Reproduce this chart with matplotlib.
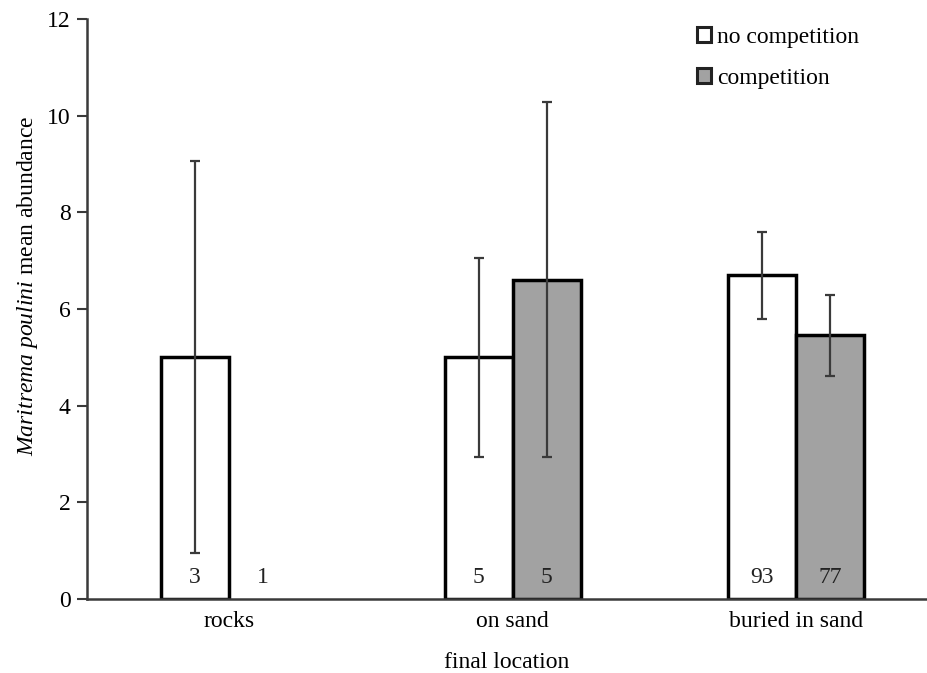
import matplotlib
matplotlib.use("Agg")
import matplotlib.pyplot as plt
import matplotlib.patches as mpatches
import numpy as np

# data
locations = ["rocks", "on sand", "buried in sand"]
mean_nocomp = [5.0, 5.0, 6.7]
err_nocomp = [4.05, 2.06, 0.9]
mean_comp = [0.0, 6.6, 5.45]
err_comp = [0.0, 3.67, 0.84]
n_nocomp = ["3", "5", "93"]
n_comp = ["1", "5", "77"]

plt.rcParams["font.family"] = ["Liberation Serif", "DejaVu Serif"]
plt.rcParams["mathtext.fontset"] = "custom"
plt.rcParams["mathtext.it"] = "Liberation Serif:italic"
plt.rcParams["mathtext.rm"] = "Liberation Serif"

axis_col = "#3a3a3a"
grey = "#a2a2a2"
w = 0.24
fs = 17

fig = plt.figure(figsize=(9.27, 6.73), dpi=100)
ax = fig.add_axes([0.0939, 0.110, 0.906, 0.862])

x = np.arange(len(locations))

# white bars; the rocks/competition bar has no data so it is skipped
ax.bar(x - w / 2, mean_nocomp, w, color="white", edgecolor="black", linewidth=2.5, zorder=2)
comp_idx = [i for i in range(len(locations)) if mean_comp[i] > 0]
ax.bar(x[comp_idx] + w / 2, [mean_comp[i] for i in comp_idx], w, color=grey,
       edgecolor="black", linewidth=2.5, zorder=2)

ax.errorbar(x - w / 2, mean_nocomp, yerr=err_nocomp, fmt="none", ecolor=axis_col,
            elinewidth=1.6, capsize=3.5, capthick=1.6, zorder=3)
ax.errorbar(x[comp_idx] + w / 2, [mean_comp[i] for i in comp_idx],
            yerr=[err_comp[i] for i in comp_idx], fmt="none", ecolor=axis_col,
            elinewidth=1.6, capsize=3.5, capthick=1.6, zorder=3)

# sample sizes inside bars
for i in range(len(locations)):
    ax.text(x[i] - w / 2, 0.45, n_nocomp[i], ha="center", va="center", fontsize=fs, color="#222222", zorder=4)
    ax.text(x[i] + w / 2, 0.45, n_comp[i], ha="center", va="center", fontsize=fs, color="#222222", zorder=4)

ax.set_xlim(-0.5, 2.46)
ax.set_ylim(0, 12)
ax.set_yticks(range(0, 13, 2))
ax.set_xticks(x)
ax.set_xticklabels(locations, fontsize=fs)
ax.tick_params(axis="x", length=0, pad=9)
ax.tick_params(axis="y", direction="out", length=7, width=1.5, color=axis_col, labelsize=fs, pad=5)

for s in ["top", "right"]:
    ax.spines[s].set_visible(False)
for s in ["left", "bottom"]:
    ax.spines[s].set_color(axis_col)
    ax.spines[s].set_linewidth(1.8)

ax.set_xlabel("final location", fontsize=fs, labelpad=14)
ax.set_ylabel(r"$\mathit{Maritrema\ poulini}$ mean abundance", fontsize=fs)
ax.yaxis.set_label_coords(-0.056, 0.54)

leg_nc = mpatches.Patch(facecolor="white", edgecolor="#222222", linewidth=2.2, label="no competition")
leg_c = mpatches.Patch(facecolor=grey, edgecolor="#222222", linewidth=2.2, label="competition")
fig.legend(handles=[leg_nc, leg_c], loc="upper left", bbox_to_anchor=(0.752, 0.96),
           frameon=False, fontsize=fs, handlelength=0.6, handleheight=0.6,
           handletextpad=0.25, labelspacing=0.85, borderpad=0, borderaxespad=0)

fig.savefig("out.png", dpi=100)
